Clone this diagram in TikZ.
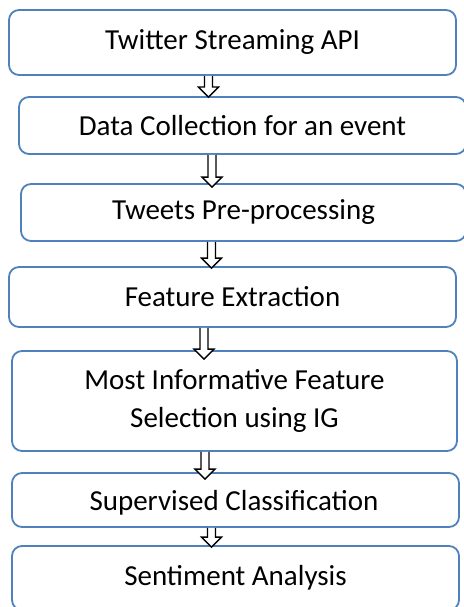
\documentclass[tikz,border=0pt]{standalone}
\usepackage{fontspec}
\setmainfont{Carlito}
\usepackage{tikz}
\usetikzlibrary{calc, positioning}
\definecolor{boxBlue}{HTML}{4F81BD}

% hollow block arrow: from node, to node, x centre, overshoot of the tip
\newcommand{\flowarrow}[4]{%
  \filldraw[arr] let \p1=(#1.south), \p2=([yshift=-#4pt]#2.north) in
    ({#3pt-4pt},\y1) -- ({#3pt-4pt},\y2+10pt) -- ({#3pt-10pt},\y2+10pt) -- (#3pt,\y2)
    -- ({#3pt+10pt},\y2+10pt) -- ({#3pt+4pt},\y2+10pt) -- ({#3pt+4pt},\y1);
}

\begin{document}
\begin{tikzpicture}[x=1pt, y=-1pt,
    sbox/.style={rectangle, rounded corners=10pt, draw=boxBlue, line width=1.8pt, fill=white,
      font=\fontsize{29}{38}\selectfont, inner sep=0pt, align=center},
    arr/.style={draw=black, fill=white, line width=1.3pt, line join=miter}
  ]
  \useasboundingbox (0,0) rectangle (463,607);
  \node[sbox, minimum width=447pt, minimum height=65pt] (api) at (232.5,42.5) {Twitter Streaming API};
  \node[sbox, minimum width=447pt, minimum height=57pt] (coll) at (242.5,125.5) {Data Collection for an event};
  \node[sbox, minimum width=445pt, minimum height=57pt] (pre) at (243.5,212.5) {Tweets Pre-processing};
  \node[sbox, minimum width=447pt, minimum height=60pt] (feat) at (232.5,297) {Feature Extraction};
  \node[sbox, minimum width=445pt, minimum height=100pt] (ig) at (234.5,401) {Most Informative Feature\\Selection using IG};
  \node[sbox, minimum width=447pt, minimum height=54pt] (cls) at (235.5,500) {};
  \node[sbox, minimum width=447pt, minimum height=64pt] (sent) at (235.5,578) {Sentiment Analysis};
  % text of the classification box is cut off at the bottom
  \begin{scope}
    \clip (cls.north west) rectangle (459,514);
    \node[font=\fontsize{29}{38}\selectfont, inner sep=0pt] (clstxt) at (234,503) {Supervised Classification};
  \end{scope}
  \flowarrow{api}{coll}{208.5}{1}
  \flowarrow{coll}{pre}{212}{4}
  \flowarrow{pre}{feat}{211.5}{2}
  \flowarrow{feat}{ig}{204}{9}
  \flowarrow{ig}{cls}{205}{7}
  \flowarrow{cls}{sent}{211.5}{2}
\end{tikzpicture}
\end{document}
